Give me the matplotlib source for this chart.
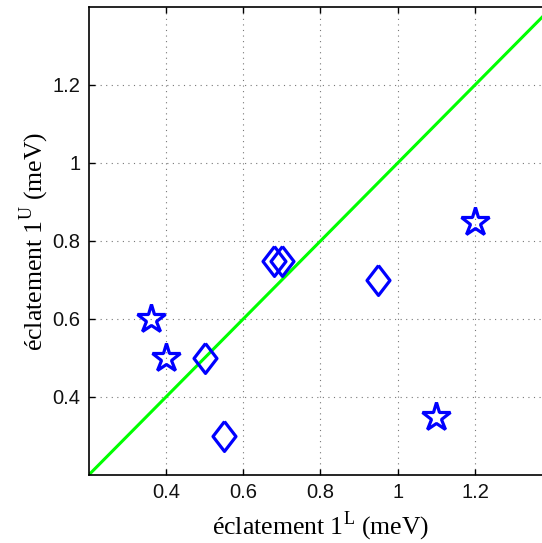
import matplotlib
matplotlib.use('Agg')
import matplotlib.pyplot as plt

plt.rcParams['font.family'] = 'Liberation Sans'
plt.rcParams['mathtext.fontset'] = 'custom'
plt.rcParams['mathtext.rm'] = 'Liberation Serif'

# données
etoiles_x = [0.36, 0.40, 1.10, 1.20]
etoiles_y = [0.60, 0.50, 0.35, 0.85]
losanges_x = [0.50, 0.55, 0.68, 0.70, 0.95]
losanges_y = [0.50, 0.30, 0.75, 0.75, 0.70]
diagonale = [0.2, 1.4]
ticks = [0.4, 0.6, 0.8, 1.0, 1.2]
tick_labels = ['0.4', '0.6', '0.8', '1', '1.2']

fig = plt.figure(figsize=(5.42, 5.43), dpi=100)
# l'axe dépasse à droite (image recadrée)
ax = fig.add_axes([88.7 / 542, 68 / 543, 463.5 / 542, 468 / 543])

ax.plot(diagonale, diagonale, color=(0, 1, 0), lw=2.2, zorder=2)

losange = [(0, 1), (0.77, 0), (0, -1), (-0.77, 0), (0, 1)]
ax.plot(losanges_x, losanges_y, ls='none', marker=losange, ms=21.5,
        mfc='none', mec='b', mew=2.3, zorder=3)
ax.plot(etoiles_x, etoiles_y, ls='none', marker='*', ms=21.5,
        mfc='none', mec='b', mew=2.3, zorder=3)

ax.set_xlim(0.2, 1.4)
ax.set_ylim(0.2, 1.4)
ax.set_xticks(ticks)
ax.set_xticklabels(tick_labels)
ax.set_yticks(ticks)
ax.set_yticklabels(tick_labels)
ax.tick_params(direction='in', top=True, right=True, labelsize=14.5, length=4,
               width=1, pad=6, labelcolor='#111111')
ax.grid(True, ls=(0, (1, 4)), color='#777777', lw=0.8)
for s in ax.spines.values():
    s.set_linewidth(1.2)

ax.set_xlabel(r'éclatement 1$^{\mathrm{L}}$ (meV)', family='Liberation Serif',
              fontsize=18.5, labelpad=5)
ax.set_ylabel(r'éclatement 1$^{\mathrm{U}}$ (meV)', family='Liberation Serif',
              fontsize=18.5, labelpad=1)

plt.savefig('out.png', dpi=100)
plt.close()
